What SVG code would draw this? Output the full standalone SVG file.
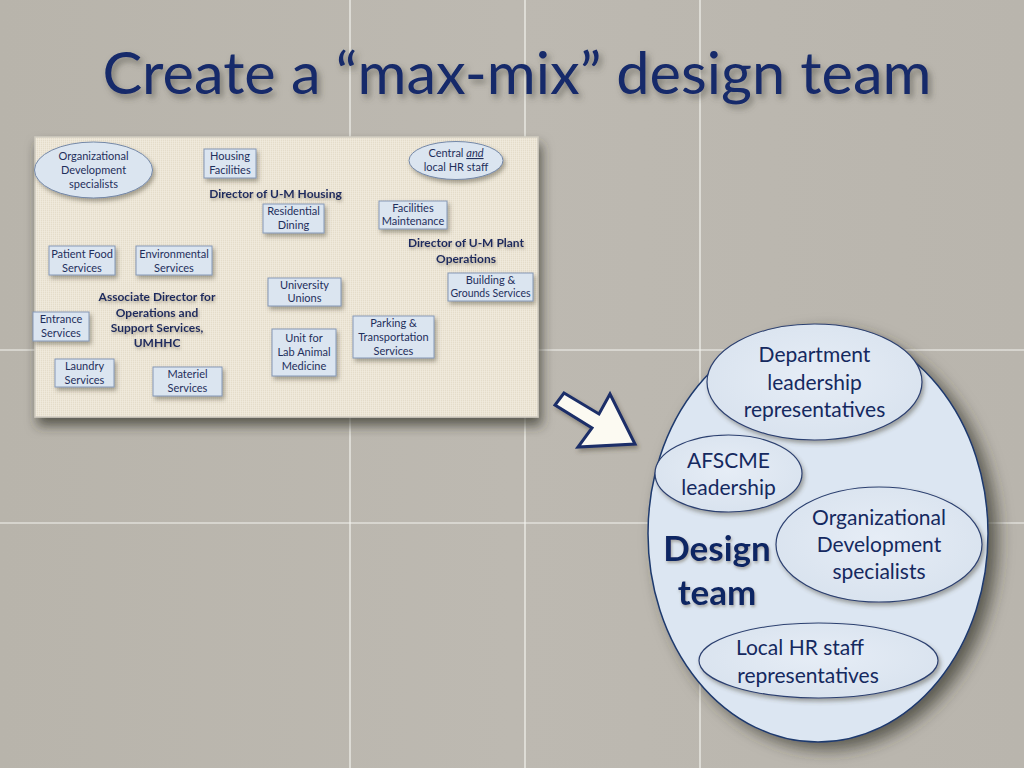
<svg xmlns="http://www.w3.org/2000/svg" width="1024" height="768" viewBox="0 0 1024 768">
<defs>
  <linearGradient id="bg" x1="0" y1="0" x2="1" y2="0">
    <stop offset="0" stop-color="#b8b4ab"/>
    <stop offset="0.5" stop-color="#bdb9b1"/>
    <stop offset="1" stop-color="#b9b5ad"/>
  </linearGradient>
  <pattern id="linen" width="4" height="4" patternUnits="userSpaceOnUse">
    <rect width="4" height="4" fill="#ece5d4"/>
    <path d="M0 0.5H4M0 2.5H4" stroke="#dfd6c2" stroke-width="0.6"/>
    <path d="M0.5 0V4M2.5 0V4" stroke="#f4eee2" stroke-width="0.6"/>
  </pattern>
  <radialGradient id="innerFill" cx="0.5" cy="0.45" r="0.6">
    <stop offset="0" stop-color="#e6edf6"/>
    <stop offset="1" stop-color="#d8e2ee"/>
  </radialGradient>
  <filter id="shPanel" x="-10%" y="-10%" width="125%" height="135%">
    <feDropShadow dx="3" dy="8" stdDeviation="6" flood-color="#35312b" flood-opacity="0.7"/>
  </filter>
  <filter id="shBig" x="-15%" y="-10%" width="140%" height="125%">
    <feDropShadow dx="9" dy="7" stdDeviation="8" flood-color="#35312b" flood-opacity="0.7"/>
  </filter>
  <filter id="shSmall" x="-20%" y="-20%" width="150%" height="160%">
    <feDropShadow dx="2" dy="3" stdDeviation="2" flood-color="#4a4436" flood-opacity="0.45"/>
  </filter>
  <filter id="shText" x="-5%" y="-20%" width="110%" height="150%">
    <feDropShadow dx="3" dy="4" stdDeviation="3" flood-color="#4a463e" flood-opacity="0.55"/>
  </filter>
  <filter id="shLabel" x="-5%" y="-20%" width="110%" height="150%">
    <feDropShadow dx="1" dy="2" stdDeviation="1.5" flood-color="#6a6250" flood-opacity="0.5"/>
  </filter>
  <style>
    .grid { stroke: #f4f3ef; stroke-width: 1.2; }
    .box { fill: #dbe5f0; stroke: #8598b6; stroke-width: 1; filter: url(#shSmall); }
    .oval { fill: #dbe5f0; stroke: #7488a8; stroke-width: 1; filter: url(#shSmall); }
    .bt { font-family: Lato, "Open Sans", sans-serif; font-size: 11px; fill: #1f2f5c; text-anchor: middle; }
    .lbl { font-family: Lato, "Open Sans", sans-serif; font-size: 12px; font-weight: bold; fill: #1c2a5e; text-anchor: middle; filter: url(#shLabel); }
    .inner { fill: url(#innerFill); stroke: #2c4070; stroke-width: 1.2; filter: url(#shSmall); }
    .it { font-family: Lato, "Open Sans", sans-serif; font-size: 21px; fill: #15295f; text-anchor: middle; }
    .dt { font-family: Lato, "Open Sans", sans-serif; font-size: 35px; font-weight: bold; fill: #102664; text-anchor: middle; filter: url(#shLabel); }
  </style>
</defs>

<!-- background -->
<rect width="1024" height="768" fill="url(#bg)"/>
<g id="grid">
  <line class="grid" x1="350" y1="0" x2="350" y2="768"/>
  <line class="grid" x1="525" y1="0" x2="525" y2="768"/>
  <line class="grid" x1="700" y1="0" x2="700" y2="768"/>
  <line class="grid" x1="0" y1="350" x2="1024" y2="350"/>
  <line class="grid" x1="0" y1="523" x2="1024" y2="523"/>
</g>

<!-- title -->
<text id="title" x="517" y="94" font-family="Lato, 'Open Sans', sans-serif" font-size="59" fill="#13296a" text-anchor="middle" textLength="829" lengthAdjust="spacingAndGlyphs" filter="url(#shText)">Create a “max-mix” design team</text>

<!-- panel -->
<g id="panel">
  <rect x="35" y="137" width="503" height="280" fill="url(#linen)" stroke="#d0cbc0" stroke-width="1.5" filter="url(#shPanel)"/>
</g>

<g id="od-oval">
  <ellipse class="oval" cx="93.5" cy="170" rx="59" ry="28"/>
  <text class="bt" x="93.5" y="160">Organizational</text>
  <text class="bt" x="93.5" y="174">Development</text>
  <text class="bt" x="93.5" y="188">specialists</text>
</g>
<g id="housing-facilities">
  <rect class="box" x="204" y="149" width="52" height="29"/>
  <text class="bt" x="230" y="160">Housing</text>
  <text class="bt" x="230" y="174">Facilities</text>
</g>
<g id="dir-housing">
  <text class="lbl" x="275.5" y="198">Director of U-M Housing</text>
</g>
<g id="residential-dining">
  <rect class="box" x="263" y="204" width="61" height="29"/>
  <text class="bt" x="293.5" y="215">Residential</text>
  <text class="bt" x="293.5" y="229">Dining</text>
</g>
<g id="hr-oval">
  <ellipse class="oval" cx="456" cy="160.5" rx="47" ry="19"/>
  <text class="bt" x="456" y="157">Central <tspan font-style="italic" text-decoration="underline">and</tspan></text>
  <text class="bt" x="456" y="171">local HR staff</text>
</g>
<g id="facilities-maintenance">
  <rect class="box" x="379" y="201" width="68" height="28"/>
  <text class="bt" x="413" y="212">Facilities</text>
  <text class="bt" x="413" y="225">Maintenance</text>
</g>
<g id="dir-plant">
  <text class="lbl" x="466" y="247">Director of U-M Plant</text>
  <text class="lbl" x="466" y="263">Operations</text>
</g>
<g id="building-grounds">
  <rect class="box" x="448" y="273" width="85" height="28"/>
  <text class="bt" x="490.5" y="284">Building &amp;</text>
  <text class="bt" x="490.5" y="297" textLength="80" lengthAdjust="spacingAndGlyphs">Grounds Services</text>
</g>
<g id="patient-food">
  <rect class="box" x="49" y="246" width="66" height="29"/>
  <text class="bt" x="82" y="258">Patient Food</text>
  <text class="bt" x="82" y="272">Services</text>
</g>
<g id="environmental">
  <rect class="box" x="136" y="246" width="76" height="29"/>
  <text class="bt" x="174" y="258">Environmental</text>
  <text class="bt" x="174" y="272">Services</text>
</g>
<g id="assoc-dir">
  <text class="lbl" x="157" y="301">Associate Director for</text>
  <text class="lbl" x="157" y="317">Operations and</text>
  <text class="lbl" x="157" y="332">Support Services,</text>
  <text class="lbl" x="157" y="347">UMHHC</text>
</g>
<g id="university-unions">
  <rect class="box" x="268" y="278" width="73" height="28"/>
  <text class="bt" x="304.5" y="289">University</text>
  <text class="bt" x="304.5" y="302">Unions</text>
</g>
<g id="entrance">
  <rect class="box" x="33" y="312" width="56" height="29"/>
  <text class="bt" x="61" y="323">Entrance</text>
  <text class="bt" x="61" y="337">Services</text>
</g>
<g id="parking">
  <rect class="box" x="353" y="316" width="81" height="42"/>
  <text class="bt" x="393.5" y="327">Parking &amp;</text>
  <text class="bt" x="393.5" y="341">Transportation</text>
  <text class="bt" x="393.5" y="355">Services</text>
</g>
<g id="lab-animal">
  <rect class="box" x="272" y="329" width="64" height="47"/>
  <text class="bt" x="304" y="342">Unit for</text>
  <text class="bt" x="304" y="356">Lab Animal</text>
  <text class="bt" x="304" y="370">Medicine</text>
</g>
<g id="laundry">
  <rect class="box" x="55" y="359" width="59" height="28"/>
  <text class="bt" x="84.5" y="370">Laundry</text>
  <text class="bt" x="84.5" y="384">Services</text>
</g>
<g id="materiel">
  <rect class="box" x="153" y="367" width="69" height="29"/>
  <text class="bt" x="187.5" y="378">Materiel</text>
  <text class="bt" x="187.5" y="392">Services</text>
</g>

<!-- connector: block arrow -->
<g id="connectors">
  <polygon points="564,393 599,414 610,394 635,444 578,447 592,428 555,405" fill="#fcfaf2" stroke="#1a2d68" stroke-width="3" stroke-linejoin="miter" filter="url(#shSmall)"/>
</g>

<!-- design team -->
<g id="design-team">
  <ellipse cx="818" cy="533.5" rx="170" ry="208.5" fill="#dce6f2" stroke="#1f3a6e" stroke-width="1.5" filter="url(#shBig)"/>
  <text class="dt" x="717" y="561">Design</text>
  <text class="dt" x="717" y="605">team</text>
</g>
<g id="dept-leadership">
  <ellipse class="inner" cx="814.5" cy="382" rx="107.5" ry="58"/>
  <text class="it" x="814.5" y="362">Department</text>
  <text class="it" x="814.5" y="390">leadership</text>
  <text class="it" x="814.5" y="417">representatives</text>
</g>
<g id="afscme">
  <ellipse class="inner" cx="728.5" cy="473.5" rx="73.5" ry="38.5"/>
  <text class="it" x="728.5" y="468">AFSCME</text>
  <text class="it" x="728.5" y="495">leadership</text>
</g>
<g id="od-specialists">
  <ellipse class="inner" cx="879" cy="544.5" rx="103" ry="57.5"/>
  <text class="it" x="879" y="525">Organizational</text>
  <text class="it" x="879" y="552">Development</text>
  <text class="it" x="879" y="579">specialists</text>
</g>
<g id="local-hr">
  <ellipse class="inner" cx="818.5" cy="660.5" rx="119.5" ry="37.5"/>
  <text class="it" x="800" y="655">Local HR staff</text>
  <text class="it" x="808" y="683">representatives</text>
</g>
</svg>
